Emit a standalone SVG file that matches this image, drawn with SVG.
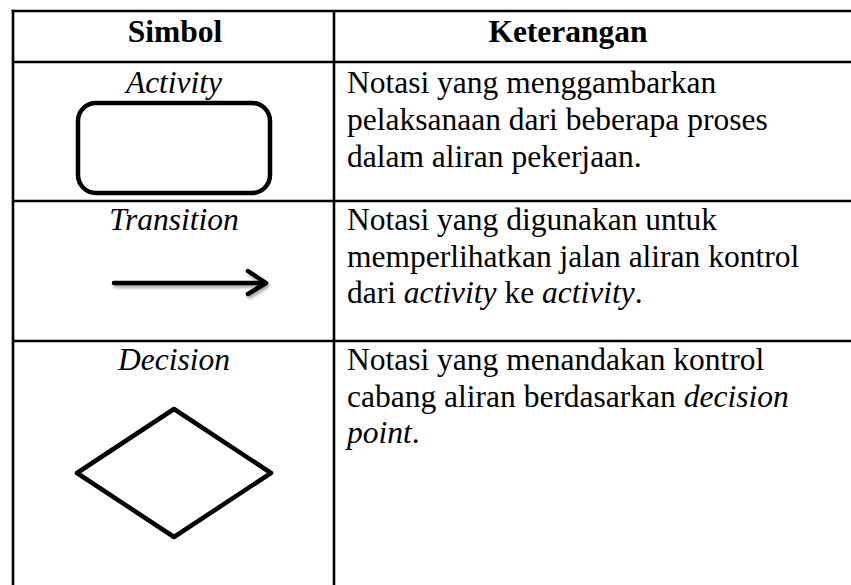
<svg xmlns="http://www.w3.org/2000/svg" width="851" height="585" viewBox="0 0 851 585">
  <style>
    .grid { stroke: #000; stroke-width: 2.6; fill: none; }
    .sym { stroke: #000; stroke-width: 4.5; fill: none; stroke-linejoin: round; stroke-linecap: round; }
    .txt { font-family: "Liberation Serif", "Times New Roman", serif; font-size: 31.5px; fill: #000; }
    .hd { font-weight: bold; text-anchor: middle; }
    .lbl { font-style: italic; text-anchor: middle; }
    .it { font-style: italic; }
  </style>
  <defs>
    <filter id="shadow" x="-10%" y="-50%" width="120%" height="200%">
      <feDropShadow dx="1.5" dy="2.5" stdDeviation="1.5" flood-color="#000" flood-opacity="0.35"/>
    </filter>
  </defs>
  <rect width="851" height="585" fill="#fff"/>

  <!-- table rules -->
  <g id="table" class="grid">
    <line x1="11.7" y1="11" x2="851" y2="11"/>
    <line x1="13" y1="62" x2="851" y2="62"/>
    <line x1="13" y1="201" x2="851" y2="201"/>
    <line x1="13" y1="341" x2="851" y2="341"/>
    <line x1="13" y1="9.7" x2="13" y2="585"/>
    <line x1="334" y1="11" x2="334" y2="585"/>
  </g>

  <!-- header -->
  <g id="header" class="txt hd">
    <text x="175" y="42">Simbol</text>
    <text x="568" y="42">Keterangan</text>
  </g>

  <!-- activity row -->
  <g id="activity">
    <text class="txt lbl" x="174" y="93">Activity</text>
    <rect class="sym" x="78" y="103" width="192" height="90" rx="18" ry="18"/>
    <text class="txt" x="347">
      <tspan x="347" y="93">Notasi yang menggambarkan</tspan>
      <tspan x="347" y="130">pelaksanaan dari beberapa proses</tspan>
      <tspan x="347" y="167">dalam aliran pekerjaan.</tspan>
    </text>
  </g>

  <!-- transition row -->
  <g id="transition">
    <text class="txt lbl" x="174" y="230">Transition</text>
    <g filter="url(#shadow)">
      <line class="sym" x1="114" y1="283" x2="265" y2="283"/>
      <polyline class="sym" points="248,271 266,283 248,294"/>
    </g>
    <text class="txt" x="347">
      <tspan x="347" y="230">Notasi yang digunakan untuk</tspan>
      <tspan x="347" y="267">memperlihatkan jalan aliran kontrol</tspan>
      <tspan x="347" y="303">dari <tspan class="it">activity</tspan> ke <tspan class="it">activity</tspan>.</tspan>
    </text>
  </g>

  <!-- decision row -->
  <g id="decision">
    <text class="txt lbl" x="174" y="370">Decision</text>
    <polygon class="sym" points="174,409 271,473 174,537 77,473"/>
    <text class="txt" x="347">
      <tspan x="347" y="370">Notasi yang menandakan kontrol</tspan>
      <tspan x="347" y="407">cabang aliran berdasarkan <tspan class="it">decision</tspan></tspan>
      <tspan x="347" y="443"><tspan class="it">point</tspan>.</tspan>
    </text>
  </g>
</svg>
